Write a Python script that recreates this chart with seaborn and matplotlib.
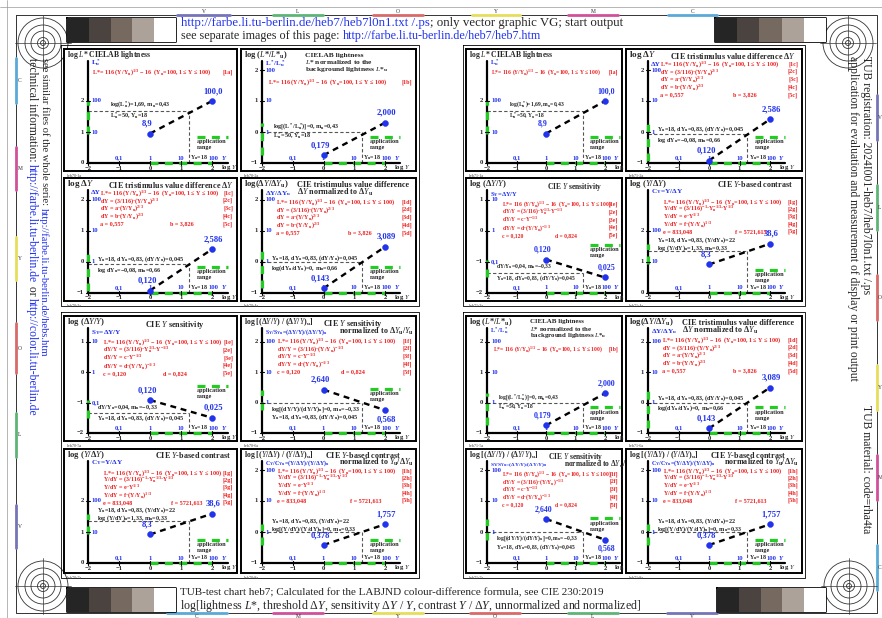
import matplotlib.pyplot as plt
import seaborn as sns
from matplotlib.colors import ListedColormap
from matplotlib.patches import Circle

sns.set_theme(style="white")
plt.rcParams["font.family"] = ["Liberation Serif", "DejaVu Serif"]
plt.rcParams["mathtext.fontset"] = "custom"
plt.rcParams["mathtext.rm"] = "Liberation Serif"
plt.rcParams["mathtext.it"] = "Liberation Serif:italic"
plt.rcParams["mathtext.bf"] = "Liberation Serif:bold"
plt.rcParams["mathtext.default"] = "regular"

W, H = 882, 618
BLUE = "#2233ee"
RED = "#ee2020"
GREEN = "#22cc22"

### DATA ###
log_Y = [0, 2]                      # log Y at Y=1 and Y=100
x_ticks = [-2, -1, 0, 1, 2]
x_blue_pos = [-1, 0, 1, 2.05]
x_blue_labels = ["0,1", "1", "10", "100"]
log_Yu = 1.255                      # Yu = 18
app_x = [0, 2]

axis_val = [0, -1, -1, -1, -2, -1, 0, -1]
y0_vals = [0.95, -0.75, -0.92, -0.85, -0.92, 0.42, 0.92, -0.42]
y2_vals = [2.00, 0.30, 0.41, 0.49, -1.50, -0.25, 1.59, 0.25]
y0_labels = ["8,9", "0,179", "0,120", "0,143", "0,120", "2,640", "8,3", "0,378"]
y2_labels = ["100,0", "2,000", "2,586", "3,089", "0,025", "0,568", "38,6", "1,757"]
y2_label_dy = [10, 10, 10, 10, 10, -9, 10, 10]
ref_vals = [1.69, 0.0, -0.08, 0.0, -1.35, 0.0, 1.35, 0.0]
legend_off = [0.84, 0.84, 0.84, 0.84, 1.55, 1.45, 0.75, 0.75]

ytick_vals = [[0, 1, 2], [-1, 0, 1, 2], [-1, 0, 1, 2], [-1, 0, 1, 2],
              [-2, -1, 0, 1], [-1, 0, 1, 2], [0, 1, 2], [-1, 0, 1, 2]]
ytick_blue = [["", "10", "100"], ["", "1", "10", "100"], ["", "1", "10", "100"],
              ["", "1", "10", "100"], ["", "0,1", "1", "10"], ["", "1", "10", "100"],
              ["", "10", "100"], ["", "1", "10", "100"]]

short_titles = [
    r"log $\mathit{L}$* CIELAB lightness",
    r"log ($\mathit{L}$*/$\mathit{L}$*$_u$)",
    r"log Δ$\mathit{Y}$",
    r"log(Δ$\mathit{Y}$/Δ$\mathit{Y}_u$)",
    r"log (Δ$\mathit{Y}$/$\mathit{Y}$)",
    r"log [(Δ$\mathit{Y}$/$\mathit{Y}$) / (Δ$\mathit{Y}$/$\mathit{Y}$)$_u$]",
    r"log ($\mathit{Y}$/Δ$\mathit{Y}$)",
    r"log [($\mathit{Y}$/Δ$\mathit{Y}$) / ($\mathit{Y}$/Δ$\mathit{Y}$)$_u$]",
]
short_size = [5.6, 6.0, 6.6, 6.2, 6.2, 5.6, 6.2, 5.6]
main_titles = [
    [],
    ["CIELAB lightness", r"$\mathit{L}$* normalized to the", r"background lightness $\mathit{L}$*$_u$"],
    [r"CIE tristimulus value difference Δ$\mathit{Y}$"],
    ["CIE tristimulus value difference", r"Δ$\mathit{Y}$ normalized to Δ$\mathit{Y}_u$"],
    [r"CIE $\mathit{Y}$ sensitivity"],
    [r"CIE $\mathit{Y}$ sensitivity", r"normalized to Δ$\mathit{Y}_u$/$\mathit{Y}_u$"],
    [r"CIE $\mathit{Y}$-based contrast"],
    [r"CIE $\mathit{Y}$-based contrast", r"normalized to $\mathit{Y}_u$/Δ$\mathit{Y}_u$"],
]
title_dx = [0, 64, 44, 56, 81, 82, 91, 84]
title_dx2 = [0, 64, 44, 56, 81, 98, 91, 98]
title_dy = [6, 6, 7, 7, 9, 8, 6, 6]

y_names = [r"$L^*_u$", r"$L^*/L^*_u$", "ΔY", r"ΔY/Δ$Y_u$", r"S$_Y$=ΔY/Y",
           r"S$_Y$/S$_{Yu}$=(ΔY/Y)/(ΔY/Y)$_u$", r"C$_Y$=Y/ΔY",
           r"C$_Y$/C$_{Yu}$=(Y/ΔY)/(Y/ΔY)$_u$"]
y_name_dy = [14, 14.5, 15, 16, 17, 16, 14, 14]
y_name_size = [5.2, 5.0, 5.2, 5.2, 5.2, 4.3, 5.2, 4.3]

F1 = r"L*= 116 (Y/Y$_u$)$^{1/3}$ − 16  (Y$_u$=100, 1 ≤ Y ≤ 100)"
red_lines = [
    [F1],
    [F1],
    [F1, r"dY = (3/116)·(Y/Y$_u$)$^{2/3}$", r"dY = a·(Y/Y$_u$)$^{2/3}$", r"dY = b·(Y/Y$_u$)$^{2/3}$", "a = 0,557"],
    [F1, r"dY = (3/116)·(Y/Y$_u$)$^{2/3}$", r"dY = a·(Y/Y$_u$)$^{2/3}$", r"dY = b·(Y/Y$_u$)$^{2/3}$", "a = 0,557"],
    [F1, r"dY/Y = (3/116)·$Y_u^{1/3}$·Y$^{-1/3}$", r"dY/Y = c·Y$^{-1/3}$", r"dY/Y = d·(Y/Y$_u$)$^{-1/3}$", "c = 0,120"],
    [F1, r"dY/Y = (3/116)·(Y/Y$_u$)$^{-1/3}$", r"dY/Y = c·Y$^{-1/3}$", r"dY/Y = d·(Y/Y$_u$)$^{-1/3}$", "c = 0,120"],
    [F1, r"Y/dY = (3/116)$^{-1}$·$Y_u^{-1/3}$·Y$^{1/3}$", r"Y/dY = e·Y$^{1/3}$", r"Y/dY = f·(Y/Y$_u$)$^{1/3}$", "e = 833,048"],
    [F1, r"Y/dY = (3/116)$^{-1}$·$Y_u^{-1/3}$·Y$^{1/3}$", r"Y/dY = e·Y$^{1/3}$", r"Y/dY = f·(Y/Y$_u$)$^{1/3}$", "e = 833,048"],
]
red_second = ["", "", "b = 3,826", "b = 3,826", "d = 0,824", "d = 0,824", "f = 5721,613", "f = 5721,613"]
red_second_x = [0, 0, 0.61, 0.61, 0.57, 0.57, 0.62, 0.62]
red_dy0 = [23, 33, 15, 24, 26, 25, 24, 22]
red_step = [7.7, 7.7, 7.7, 7.7, 7.9, 7.7, 7.3, 7.3]
red_dx = [4, 6, 12, 14, 15, 15, 15, 15]

ref_text_1 = [r"log($L^*_u$)=1,69, m$_u$=0,43", r"log[($L^*/L^*_u$)]=0, m$_u$=0,43",
              r"Y$_u$=18, dY$_u$=0,83, (dY/Y$_u$)=0,045", r"Y$_u$=18, dY$_u$=0,83, (dY/Y$_u$)=0,045",
              r"dY/Y$_u$=0,04, m$_u$=−0,33", r"log[(dY/Y)/(dY/Y)$_u$]=0, m$_u$=−0,33",
              r"Y$_u$=18, dY$_u$=0,83, (Y/dY$_u$)=22", r"Y$_u$=18, dY$_u$=0,83, (Y/dY$_u$)=22"]
ref_text_2 = [r"$L^*_u$=50, Y$_u$=18", r"$L^*_u$=50, Y$_u$=18",
              r"log dY$_u$=−0,08, m$_u$=0,66", r"log(dY$_u$/dY$_u$)=0, m$_u$=0,66",
              r"Y$_u$=18, dY$_u$=0,83, (dY/Y$_u$)=0,045", r"Y$_u$=18, dY$_u$=0,83, (dY/Y$_u$)=0,045",
              r"log (Y/dY)$_u$=1,33, m$_u$=0,33", r"log[(Y/dY)/(Y/dY)$_u$]=0, m$_u$=0,33"]
ref_dy_1 = [6, 5, 5, 4, 6, -6, 11, 11]
ref_dy_2 = [-5, -4, -6, -6, -5, -15, 3.5, 3.5]
ref_dx = [22, 11, 9, 9, 9, 9, 9, 9]

# layout in pixels: (frame left, frame right, x=-2 px, x=2 px, text scale)
left_cols = [(64, 237, 88, 212, 1.0), (241, 416, 262, 385, 1.0)]
right_cols = [(466, 622, 487, 605, 0.92), (626, 802, 648, 770, 1.0)]
# (frame top, frame bottom, axis px, px per unit)
rows = [(49, 171, 163, 31), (178, 301, 293, 31), (316, 441, 433, 30.5), (449, 573, 563, 31)]
left_layout = [[0, 1], [2, 3], [4, 5], [6, 7]]
right_layout = [[0, 2], [4, 6], [1, 3], [5, 7]]

gray_colors = ["#252525", "#4b433f", "#76695f", "#ada29a", "#ffffff"]
gray_boxes = [(67, 18, 176, 42), (715, 18, 826, 42), (67, 588, 176, 612), (717, 588, 826, 612)]
circle_centers = [(43, 43), (848, 43), (43, 586), (849, 586)]
circle_radii = [25, 18, 12, 5.5, 2.5]

strip_colors = {"C": "#5aaad8", "M": "#d0509a", "Y": "#e6de5a", "O": "#d86a6a", "L": "#5eb476", "V": "#7474b8"}
strip_top = [("V", 177, 230), ("L", 273, 323), ("O", 373, 423), ("Y", 472, 520), ("M", 568, 618), ("C", 668, 717)]
strip_bottom = [("C", 167, 227), ("M", 273, 323), ("Y", 373, 423), ("O", 470, 520), ("L", 568, 618), ("V", 667, 717)]
strip_left = [("C", 58, 103), ("M", 147, 190), ("Y", 237, 280), ("O", 323, 373), ("L", 413, 457), ("V", 505, 548)]
strip_right = [("V", 95, 140), ("L", 185, 230), ("O", 275, 320), ("Y", 365, 410), ("M", 455, 500), ("C", 545, 590)]

fig = plt.figure(figsize=(W / 100, H / 100), dpi=100)
bg = fig.add_axes([0, 0, 1, 1])
bg.set_xlim(0, W)
bg.set_ylim(H, 0)
bg.axis("off")

### PAGE FRAME ###
bg.plot([0, W], [7, 7], color="#999999", lw=0.5)
bg.plot([7, 7], [0, H], color="#999999", lw=0.5)
bg.plot([16, 877, 877, 16, 16], [15, 15, 613, 613, 15], color="#333333", lw=0.7)
for name, a, b in strip_top:
    bg.plot([a, b], [15, 15], color=strip_colors[name], lw=2)
    bg.text((a + b) / 2, 11.5, name, fontsize=4, ha="center", va="center")
for name, a, b in strip_bottom:
    bg.plot([a, b], [613, 613], color=strip_colors[name], lw=2)
    bg.text((a + b) / 2, 616.5, name, fontsize=4, ha="center", va="center")
for name, a, b in strip_left:
    bg.plot([16, 16], [a, b], color=strip_colors[name], lw=2)
    bg.text(20, (a + b) / 2, name, fontsize=4, ha="center", va="center")
for name, a, b in strip_right:
    bg.plot([877, 877], [a, b], color=strip_colors[name], lw=2)
    bg.text(880, (a + b) / 2, name, fontsize=4, ha="center", va="center")

# registration marks
for cx, cy in circle_centers:
    for r in circle_radii:
        bg.add_patch(Circle((cx, cy), r, fill=False, lw=0.6, color="#333333"))
    bg.plot([cx - 28, cx + 28], [cy, cy], color="#333333", lw=0.5)
    bg.plot([cx, cx], [cy - 28, cy + 28], color="#333333", lw=0.5)

# gray scale bars
for x0, y0, x1, y1 in gray_boxes:
    gax = fig.add_axes([x0 / W, 1 - y1 / H, (x1 - x0) / W, (y1 - y0) / H])
    sns.heatmap([list(range(len(gray_colors)))], cmap=ListedColormap(gray_colors), cbar=False,
                xticklabels=False, yticklabels=False, ax=gax)
    bg.plot([x0, x1, x1, x0, x0], [y0, y0, y1, y1, y0], color="black", lw=1.2)

### HEADER / FOOTER / SIDE TEXTS ###
t = bg.text(181, 23, "http://farbe.li.tu-berlin.de/heb7/heb7l0n1.txt /.ps", color=BLUE, fontsize=9.3, va="center")
bg.annotate("; only vector graphic VG; start output", xy=(1, 0), xycoords=t, va="bottom", fontsize=9.3)
t = bg.text(181, 36, "see separate images of this page: ", fontsize=8.7, va="center")
bg.annotate("http://farbe.li.tu-berlin.de/heb7/heb7.htm", xy=(1, 0), xycoords=t, va="bottom", fontsize=8.7, color=BLUE)
bg.text(180, 593, "TUB-test chart heb7; Calculated for the LABJND colour-difference formula, see CIE 230:2019",
        fontsize=8.0, va="center")
bg.text(180, 606, r"log[lightness $\mathit{L}$*, threshold Δ$\mathit{Y}$, sensitivity Δ$\mathit{Y}$ / $\mathit{Y}$, "
                  r"contrast $\mathit{Y}$ / Δ$\mathit{Y}$, unnormalized and normalized]", fontsize=8.6, va="center")

SF = 7.6
t = bg.text(44, 58, "see similar files of the whole serie: ", rotation=-90, fontsize=SF, ha="center", va="top")
bg.annotate("http://farbe.li.tu-berlin.de/hebs.htm", xy=(0.5, 0), xycoords=t, rotation=-90,
            fontsize=SF, ha="center", va="top", color=BLUE)
SF2 = 8.4
t = bg.text(32, 58, "technical information: ", rotation=-90, fontsize=SF2, ha="center", va="top")
t = bg.annotate("http://farbe.li.tu-berlin.de", xy=(0.5, 0), xycoords=t, rotation=-90,
                fontsize=SF2, ha="center", va="top", color=BLUE)
t = bg.annotate(" or ", xy=(0.5, 0), xycoords=t, rotation=-90, fontsize=SF2, ha="center", va="top")
bg.annotate("http://color.li.tu-berlin.de", xy=(0.5, 0), xycoords=t, rotation=-90,
            fontsize=SF2, ha="center", va="top", color=BLUE)

RF = 8.4
bg.text(866, 56, "TUB registration: 2024I001-heb7/heb7l0n1.txt /.ps", rotation=-90, fontsize=RF, ha="center", va="top")
bg.text(853, 56, "application for evaluation and measurement of display or print output", rotation=-90,
        fontsize=RF, ha="center", va="top")
bg.text(866, 405, "TUB material: code=rha4ta", rotation=-90, fontsize=RF, ha="center", va="top")

# group frames
for gx0, gx1 in [(61, 419), (463, 805)]:
    for gy0, gy1 in [(45, 306), (312, 578)]:
        bg.plot([gx0, gx1, gx1, gx0, gx0], [gy0, gy0, gy1, gy1, gy0], color="black", lw=0.6)


### PANELS ###
def draw_panel(k, col, row, tag):
    fl, fr, ax_px, x2_px, fs = col
    ft, fb, axis_px, ys = row
    xs = (x2_px - ax_px) / 4
    base = axis_val[k]
    pw, ph = fr - fl, fb - ft
    ax = fig.add_axes([fl / W, 1 - fb / H, pw / W, ph / H])

    def at(dx, dy, s, **kw):
        ax.text(dx / pw, 1 - dy / ph, s, transform=ax.transAxes, va="center", fontweight="bold", **kw)

    # reference lines for Yu = 18
    ref = ref_vals[k]
    ax.plot([-2, log_Yu], [ref, ref], color="#555555", lw=0.8, ls=(0, (3, 2)))
    ax.plot([log_Yu, log_Yu], [base, ref], color="#555555", lw=0.8, ls=(0, (3, 2)))

    # curve and end points
    sns.lineplot(x=log_Y, y=[y0_vals[k], y2_vals[k]], color="black", lw=1.7,
                 linestyle=(0, (2.5, 2)), ax=ax)
    sns.scatterplot(x=log_Y, y=[y0_vals[k], y2_vals[k]], color=BLUE, s=18, edgecolor=BLUE,
                    ax=ax, zorder=6)
    ax.text(-0.1, y0_vals[k] + 10 / ys, y0_labels[k], color=BLUE, fontsize=6.2 * fs,
            fontweight="bold", ha="center", va="center")
    ax.text(2.05, y2_vals[k] + y2_label_dy[k] / ys, y2_labels[k], color=BLUE, fontsize=6.2 * fs,
            fontweight="bold", ha="center", va="center")

    # axes
    y_top = base + (axis_px - ft - 12) / ys
    ax.plot([-2, 2.5], [base, base], color="black", lw=1.6)
    ax.plot([-2, -2], [base, y_top], color="black", lw=1.6)
    ax.plot(app_x, [base, base], color=GREEN, lw=2.3, ls=(0, (2.5, 2)))
    lo, hi = sorted([y0_vals[k], y2_vals[k]])
    ax.plot([-2, -2], [lo, hi], color=GREEN, lw=2.3, ls=(0, (2.5, 2)))

    for tx in x_ticks:
        ax.plot([tx, tx], [base - 2 / ys, base + 2 / ys], color="black", lw=0.8)
        ax.text(tx, base - 5 / ys, f"{tx}".replace("-", "−"), fontsize=4.8, ha="center",
                va="center", fontweight="bold")
    ax.text(2.3, base - 5 / ys, r"log $\mathit{Y}$", fontsize=4.8, ha="left", va="center", fontweight="bold")
    for pos, lab in zip(x_blue_pos, x_blue_labels):
        ax.text(pos, base + 5 / ys, lab, fontsize=4.8, ha="center", va="center", color=BLUE, fontweight="bold")
    ax.text(2.3, base + 5 / ys, "Y", fontsize=4.8, ha="left", va="center", color=BLUE,
            fontweight="bold", style="italic")
    ax.text(1.3, base + 5 / ys, r"Y$_u$=18", fontsize=4.2, ha="left", va="center", fontweight="bold")

    for v, blab in zip(ytick_vals[k], ytick_blue[k]):
        ax.plot([-2 - 2 / xs, -2 + 2 / xs], [v, v], color="black", lw=0.8)
        ax.text(-2 - 4 / xs, v, f"{v}".replace("-", "−"), fontsize=4.8, ha="right",
                va="center", fontweight="bold")
        ax.text(-2 + 4 / xs, v, blab, fontsize=4.8, ha="left", va="center", color=BLUE, fontweight="bold")

    # application range legend
    ly = base + legend_off[k]
    ax.plot([1.5, 2.5], [ly, ly], color=GREEN, lw=2.3, ls=(0, (2.5, 2)))
    ax.text(1.5, ly - 5 / ys, "application", fontsize=4.4, ha="left", va="center", fontweight="bold")
    ax.text(1.5, ly - 11 / ys, "range", fontsize=4.4, ha="left", va="center", fontweight="bold")

    # reference texts
    ax.text(-2 + ref_dx[k] / xs, ref + ref_dy_1[k] / ys, ref_text_1[k], fontsize=4.4 * fs,
            va="center", fontweight="bold")
    ax.text(-2 + ref_dx[k] / xs, ref + ref_dy_2[k] / ys, ref_text_2[k], fontsize=4.4 * fs,
            va="center", fontweight="bold")

    # titles
    at(3, 6, short_titles[k], fontsize=short_size[k])
    for i, line in enumerate(main_titles[k]):
        dx = title_dx[k] if i == 0 else title_dx2[k]
        at(dx, title_dy[k] + 7 * i, line, fontsize=(5.9 if k != 1 else 5.4) * fs)
    at(ax_px - fl + 3, y_name_dy[k], y_names[k], fontsize=y_name_size[k] * fs, color=BLUE)

    # red formulas
    for i, line in enumerate(red_lines[k]):
        dy = red_dy0[k] + red_step[k] * i
        at(ax_px - fl + red_dx[k], dy, line, fontsize=4.4 * fs, color=RED)
        at(pw - 4, dy, f"[{i + 1}{'abcdefgh'[k]}]", fontsize=4.4 * fs, color=RED, ha="right")
    if red_second[k]:
        at(red_second_x[k] * pw, red_dy0[k] + red_step[k] * 4, red_second[k], fontsize=4.4 * fs, color=RED)

    ax.set_xlim(-2 - (ax_px - fl) / xs, 2 + (fr - x2_px) / xs)
    ax.set_ylim(base - (fb - axis_px) / ys, base + (axis_px - ft) / ys)
    ax.set_xticks([])
    ax.set_yticks([])
    ax.set_xlabel("")
    ax.set_ylabel("")
    for sp in ax.spines.values():
        sp.set_visible(True)
        sp.set_color("black")
        sp.set_linewidth(1.4)
    bg.text(fl + 3, fb + 5, tag, fontsize=3, color="#444444", va="center")


for group, cols, layout in [("heb70", left_cols, left_layout), ("heb71", right_cols, right_layout)]:
    for r, row in enumerate(rows):
        for c, col in enumerate(cols):
            draw_panel(layout[r][c], col, row, f"{group}-{r * 2 + c + 1}a")

fig.savefig("out.png", dpi=100)
